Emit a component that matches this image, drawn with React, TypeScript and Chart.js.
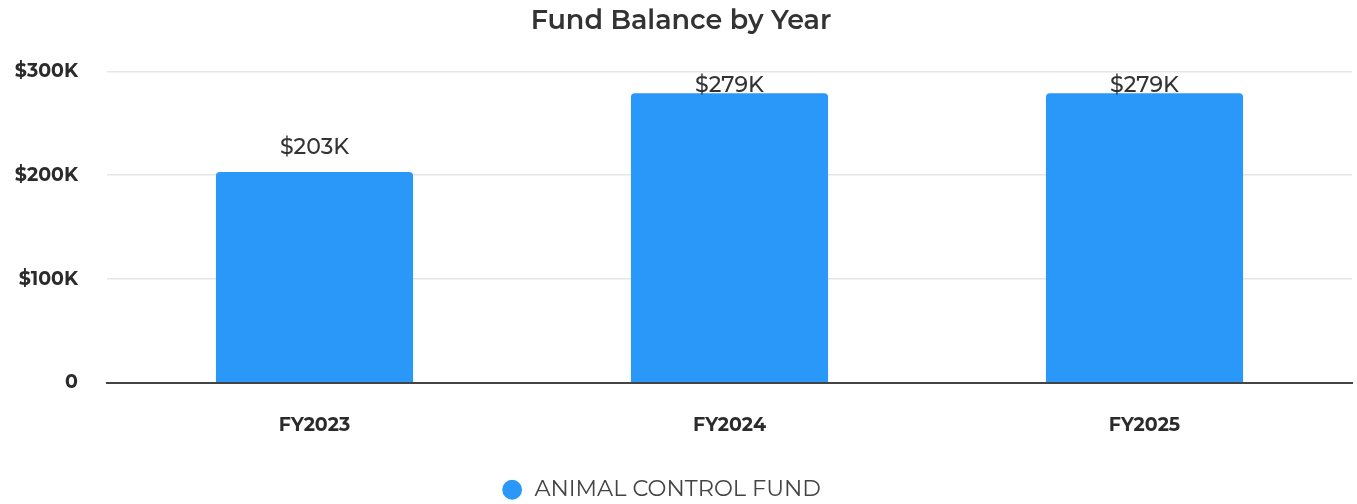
import React, { useEffect, useRef } from "react";
import { Chart, registerables } from "chart.js";

Chart.register(...registerables);

const categories = ["FY2023", "FY2024", "FY2025"];
const seriesName = "ANIMAL CONTROL FUND";
const values = [203000, 279000, 279000];
const valueLabels = ["$203K", "$279K", "$279K"];
const yTickValues = [0, 100000, 200000, 300000];
const yTickLabels = ["0", "$100K", "$200K", "$300K"];

const FONT = "Montserrat, Inter, 'Open Sans', sans-serif";

const valueLabelPlugin = {
  id: "valueLabels",
  afterDatasetsDraw(chart: any) {
    const { ctx, chartArea } = chart;
    const meta = chart.getDatasetMeta(0);
    ctx.save();
    ctx.font = `500 22px ${FONT}`;
    ctx.fillStyle = "#333333";
    ctx.textAlign = "center";
    ctx.textBaseline = "middle";
    meta.data.forEach((bar: any, i: number) => {
      const y = Math.max(bar.y - 25, chartArea.top + 14);
      ctx.fillText(valueLabels[i], bar.x, y);
    });
    ctx.restore();
  },
};

const legendShiftPlugin = {
  id: "legendShift",
  afterLayout(chart: any) {
    const lg = chart.legend;
    if (lg) {
      lg.left -= 20;
      lg.right -= 20;
    }
  },
};

export default function App() {
  const ref = useRef<HTMLCanvasElement>(null);
  useEffect(() => {
    if (!ref.current) return;
    const chart = new Chart(ref.current, {
      type: "bar",
      data: {
        labels: categories,
        datasets: [
          {
            label: seriesName,
            data: values,
            backgroundColor: "#2A98F9",
            borderRadius: { topLeft: 4, topRight: 4 },
            borderSkipped: "bottom",
            categoryPercentage: 0.95,
            barPercentage: 0.5,
          },
        ],
      },
      options: {
        animation: false,
        responsive: false,
        layout: { padding: { left: 10, right: 5, top: 0, bottom: -7 } },
        plugins: {
          title: {
            display: true,
            text: "Fund Balance by Year",
            color: "#333333",
            font: { family: FONT, size: 27, weight: "600" },
            padding: { top: 5, bottom: 34 },
          },
          legend: {
            position: "bottom",
            labels: {
              usePointStyle: true,
              pointStyle: "circle",
              boxWidth: 22,
              boxHeight: 14,
              color: "#444444",
              font: { family: FONT, size: 22.5, weight: "400" },
              padding: 1,
            },
          },
          tooltip: { enabled: false },
        },
        scales: {
          x: {
            grid: { display: false },
            border: { display: true, color: "#444444", width: 2 },
            ticks: {
              color: "#2b2b2b",
              font: { family: FONT, size: 19, weight: "700" },
              padding: 23,
            },
            afterFit(axis: any) {
              axis.height += 18;
            },
          },
          y: {
            min: 0,
            max: 300000,
            afterBuildTicks(axis: any) {
              axis.ticks = yTickValues.map((v) => ({ value: v }));
            },
            afterFit(axis: any) {
              axis.width = 97;
            },
            grid: { color: "#e6e6e6", lineWidth: 1.5, drawTicks: false },
            border: { display: false },
            ticks: {
              color: "#2b2b2b",
              font: { family: FONT, size: 19, weight: "700" },
              padding: 29,
              callback(value: any) {
                const i = yTickValues.indexOf(Number(value));
                return i >= 0 ? yTickLabels[i] : "";
              },
            },
          },
        },
      },
      plugins: [valueLabelPlugin, legendShiftPlugin],
    });
    return () => chart.destroy();
  }, []);
  return (
    <div style={{ position: "fixed", left: 0, top: 0, width: 1357, height: 504, background: "#fff" }}>
      <canvas ref={ref} width={1357} height={504} />
    </div>
  );
}
